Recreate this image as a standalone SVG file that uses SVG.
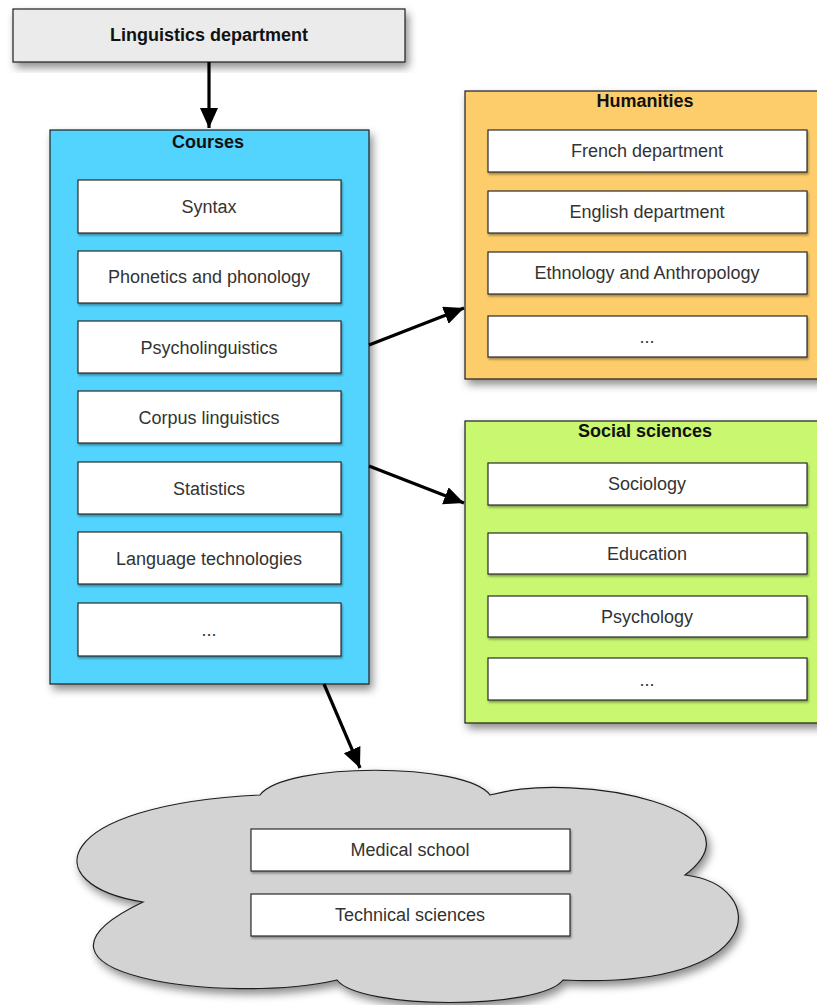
<svg xmlns="http://www.w3.org/2000/svg" width="817" height="1005" viewBox="0 0 817 1005">
<style>
.box{fill:#ffffff;stroke:#2b2b2b;stroke-width:1.2}
.cont{stroke:#1e1e1e;stroke-width:1.2}
.t{font-family:"Liberation Sans",Arial,sans-serif;font-size:18px;fill:#333;text-anchor:middle}
.b{font-family:"Liberation Sans",Arial,sans-serif;font-size:18px;font-weight:bold;fill:#111;text-anchor:middle}
.conn{stroke:#000;stroke-width:3.2;fill:none}
</style>
<defs>
<filter id="sh" x="-10%" y="-10%" width="130%" height="130%">
<feDropShadow dx="3" dy="5" stdDeviation="4" flood-color="#000" flood-opacity="0.45"/>
</filter>
<filter id="sh2" x="-10%" y="-10%" width="130%" height="140%">
<feDropShadow dx="1" dy="2" stdDeviation="1.2" flood-color="#000" flood-opacity="0.35"/>
</filter>
<marker id="ah" markerUnits="userSpaceOnUse" markerWidth="22" markerHeight="20" refX="20" refY="9" orient="auto">
<path d="M0,0 L20,9 L0,18 z" fill="#000"/>
</marker>
</defs>

<g id="linguistics">
<rect x="13" y="9" width="392" height="53" fill="#ebebeb" class="cont" filter="url(#sh)"/>
<text class="b" x="209" y="41">Linguistics department</text>
</g>

<g id="courses">
<rect x="50" y="130" width="319" height="554" fill="#52d4fe" class="cont" filter="url(#sh)"/>
<text class="b" x="208" y="148">Courses</text>
<g filter="url(#sh2)">
<rect class="box" x="78" y="180" width="263" height="53"/>
<rect class="box" x="78" y="251" width="263" height="52"/>
<rect class="box" x="78" y="321" width="263" height="52"/>
<rect class="box" x="78" y="391" width="263" height="52"/>
<rect class="box" x="78" y="462" width="263" height="52"/>
<rect class="box" x="78" y="532" width="263" height="52"/>
<rect class="box" x="78" y="603" width="263" height="53"/>
</g>
<text class="t" x="209" y="213">Syntax</text>
<text class="t" x="209" y="283">Phonetics and phonology</text>
<text class="t" x="209" y="354">Psycholinguistics</text>
<text class="t" x="209" y="424">Corpus linguistics</text>
<text class="t" x="209" y="495">Statistics</text>
<text class="t" x="209" y="565">Language technologies</text>
<text class="t" x="209" y="636">...</text>
</g>

<g id="humanities">
<rect x="465" y="91" width="360" height="288" fill="#fdcd6c" class="cont" filter="url(#sh)"/>
<text class="b" x="645" y="107">Humanities</text>
<g filter="url(#sh2)">
<rect class="box" x="488" y="130" width="319" height="42"/>
<rect class="box" x="488" y="191" width="319" height="42"/>
<rect class="box" x="488" y="252" width="319" height="42"/>
<rect class="box" x="488" y="316" width="319" height="41"/>
</g>
<text class="t" x="647" y="157">French department</text>
<text class="t" x="647" y="218">English department</text>
<text class="t" x="647" y="279">Ethnology and Anthropology</text>
<text class="t" x="647" y="343">...</text>
</g>

<g id="social">
<rect x="465" y="421" width="360" height="302" fill="#c9f76f" class="cont" filter="url(#sh)"/>
<text class="b" x="645" y="437">Social sciences</text>
<g filter="url(#sh2)">
<rect class="box" x="488" y="463" width="319" height="42"/>
<rect class="box" x="488" y="533" width="319" height="41"/>
<rect class="box" x="488" y="596" width="319" height="41"/>
<rect class="box" x="488" y="658" width="319" height="42"/>
</g>
<text class="t" x="647" y="490">Sociology</text>
<text class="t" x="647" y="560">Education</text>
<text class="t" x="647" y="623">Psychology</text>
<text class="t" x="647" y="686">...</text>
</g>

<g id="other">
<path d="M260,795 C285,762 465,762 490,795 C580,770 770,810 685,875 C770,885 770,990 563,980 C540,1010 360,1010 337,980 C230,1005 -10,975 143,902 C35,885 50,805 260,795 Z" fill="#d3d3d3" stroke="#1e1e1e" stroke-width="1.2" filter="url(#sh)"/>
<g filter="url(#sh2)">
<rect class="box" x="251" y="829" width="319" height="42"/>
<rect class="box" x="251" y="894" width="319" height="42"/>
</g>
<text class="t" x="410" y="856">Medical school</text>
<text class="t" x="410" y="921">Technical sciences</text>
</g>

<g id="connectors">
<line class="conn" x1="209" y1="62" x2="209" y2="128" marker-end="url(#ah)"/>
<line class="conn" x1="369" y1="345" x2="464" y2="308" marker-end="url(#ah)"/>
<line class="conn" x1="369" y1="466" x2="464" y2="503" marker-end="url(#ah)"/>
<line class="conn" x1="324" y1="684" x2="360" y2="768" marker-end="url(#ah)"/>
</g>
</svg>
